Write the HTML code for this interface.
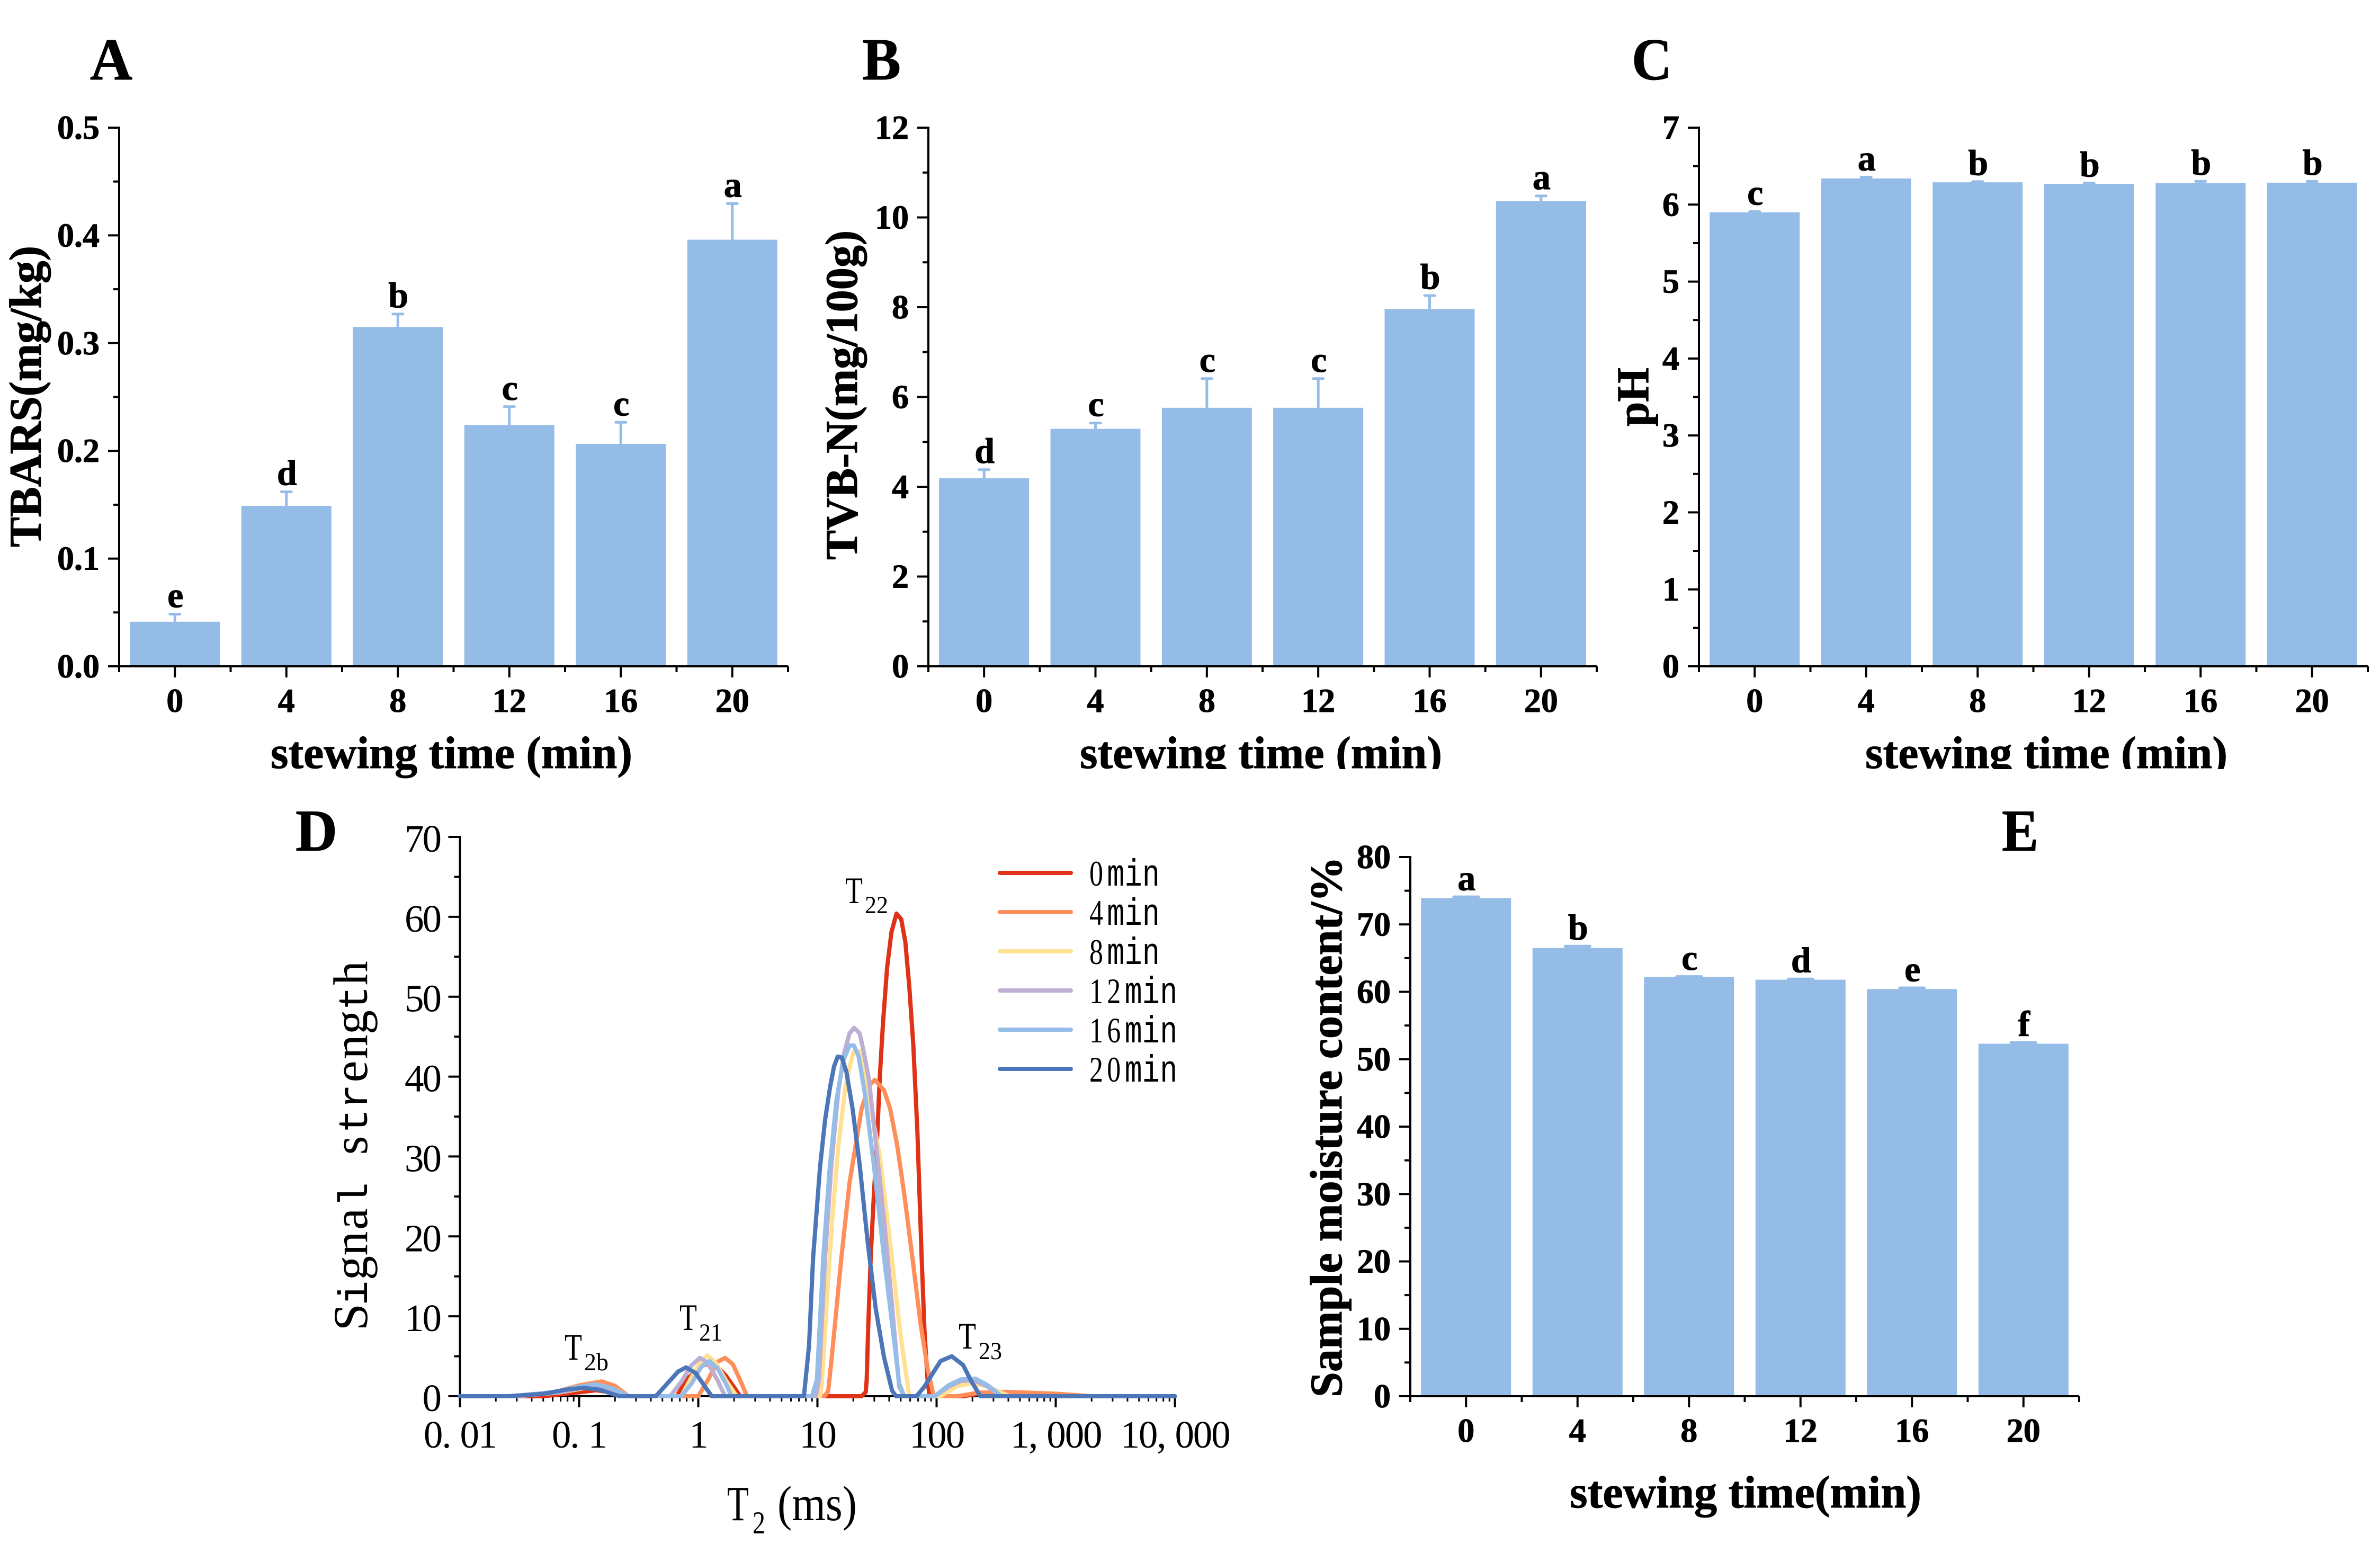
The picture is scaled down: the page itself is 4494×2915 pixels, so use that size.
<!DOCTYPE html>
<html lang="en">
<head>
<meta charset="utf-8">
<title>Stewing time quality indicators</title>
<style>
html,body{margin:0;padding:0;background:#fff;}
svg{display:block;}
text{font-family:"Liberation Serif","Noto Serif CJK SC",serif;fill:#000;}
text[font-weight="bold"]{stroke:#000;stroke-width:1;}
.panel{font-weight:bold;font-size:112px;stroke:#000;stroke-width:1;}
.title{font-weight:bold;font-size:86px;stroke:#000;stroke-width:1;}
.mono{font-family:"Liberation Mono",monospace;font-size:78px;}
</style>
</head>
<body>
<svg id="figure" xmlns="http://www.w3.org/2000/svg" width="4494" height="2915" viewBox="0 0 4494 2915">
<defs>
<clipPath id="clip-bottom-row"><rect x="0" y="0" width="4494" height="1452"/></clipPath>
</defs>
<rect x="0" y="0" width="4494" height="2915" fill="#ffffff"/>

<text class="panel" x="170" y="150" textLength="80" lengthAdjust="spacingAndGlyphs">A</text>
<text class="panel" x="1628" y="150" textLength="73" lengthAdjust="spacingAndGlyphs">B</text>
<text class="panel" x="3081" y="150" textLength="76" lengthAdjust="spacingAndGlyphs">C</text>
<text class="panel" x="558" y="1606" textLength="79" lengthAdjust="spacingAndGlyphs">D</text>
<text class="panel" x="3780" y="1606" textLength="69" lengthAdjust="spacingAndGlyphs">E</text>

<text class="title" transform="translate(77,1033) rotate(-90)" textLength="569" lengthAdjust="spacingAndGlyphs">TBARS(mg/kg)</text>
<text class="title" x="511" y="1450" textLength="683" lengthAdjust="spacingAndGlyphs">stewing time (min)</text>

<text class="title" transform="translate(1618,1057) rotate(-90)" textLength="622" lengthAdjust="spacingAndGlyphs">TVB-N(mg/100g)</text>
<g clip-path="url(#clip-bottom-row)">
<text class="title" x="2039" y="1450" textLength="684" lengthAdjust="spacingAndGlyphs">stewing time (min)</text>
</g>

<text class="title" transform="translate(3112,805) rotate(-90)" textLength="111" lengthAdjust="spacingAndGlyphs">pH</text>
<g clip-path="url(#clip-bottom-row)">
<text class="title" x="3522" y="1450" textLength="684" lengthAdjust="spacingAndGlyphs">stewing time (min)</text>
</g>

<text class="title" transform="translate(2533,2638) rotate(-90)" textLength="1021" lengthAdjust="spacingAndGlyphs">Sample moisture content/%</text>
<text class="title" x="2964" y="2846" textLength="664" lengthAdjust="spacingAndGlyphs">stewing time(min)</text>

<text transform="translate(693,2510) rotate(-90)" style="font-size:92px" x="-2.3 45.4 93 139.4 188.3 231 278.4 329.8 370.2 416.6 466.7 510.6 557 602.2 649.8">S<tspan class="mono">i</tspan>gna<tspan class="mono">l</tspan> s<tspan class="mono">tr</tspan>eng<tspan class="mono">t</tspan>h</text>
<g>
<text x="1373" y="2870" style="font-size:93px" textLength="41" lengthAdjust="spacingAndGlyphs">T</text>
<text x="1421" y="2895" style="font-size:60px" textLength="24" lengthAdjust="spacingAndGlyphs">2</text>
<text x="1468" y="2870" style="font-size:93px" textLength="150" lengthAdjust="spacingAndGlyphs">(ms)</text>
</g>

<g>
<text x="1066" y="2567" style="font-size:71px" textLength="33" lengthAdjust="spacingAndGlyphs">T</text>
<text x="1103" y="2587" style="font-size:47px" textLength="46" lengthAdjust="spacingAndGlyphs">2b</text>
</g>
<g>
<text x="1283" y="2511" style="font-size:71px" textLength="33" lengthAdjust="spacingAndGlyphs">T</text>
<text x="1320" y="2531" style="font-size:47px" textLength="44" lengthAdjust="spacingAndGlyphs">21</text>
</g>
<g>
<text x="1596" y="1705" style="font-size:71px" textLength="33" lengthAdjust="spacingAndGlyphs">T</text>
<text x="1633" y="1724" style="font-size:47px" textLength="44" lengthAdjust="spacingAndGlyphs">22</text>
</g>
<g>
<text x="1810" y="2546" style="font-size:71px" textLength="33" lengthAdjust="spacingAndGlyphs">T</text>
<text x="1848" y="2566" style="font-size:47px" textLength="44" lengthAdjust="spacingAndGlyphs">23</text>
</g>
</svg>

<script>
// Shared categories
const stewingTimes = ['0','4','8','12','16','20'];

// Panel A: TBARS
const tbarsValues = [0.0414,0.149,0.315,0.224,0.2065,0.396];
const tbarsErrors = [0.007,0.013,0.012,0.017,0.02,0.0335];
const tbarsLetters = ['e','d','b','c','c','a'];
const tbarsTicks = ['0.0','0.1','0.2','0.3','0.4','0.5'];

// Panel B: TVB-N
const tvbnValues = [4.19,5.29,5.76,5.76,7.96,10.36];
const tvbnErrors = [0.19,0.13,0.65,0.65,0.3,0.12];
const tvbnLetters = ['d','c','c','c','b','a'];
const tvbnTicks = ['0','2','4','6','8','10','12'];

// Panel C: pH
const phValues = [5.9,6.34,6.29,6.27,6.28,6.285];
const phErrors = [0.009,0.016,0.009,0.009,0.022,0.016];
const phLetters = ['c','a','b','b','b','b'];
const phTicks = ['0','1','2','3','4','5','6','7'];

// Panel E: moisture
const moistureValues = [73.9,66.5,62.2,61.8,60.4,52.3];
const moistureErrors = [0.16,0.24,0.03,0.07,0.15,0.15];
const moistureLetters = ['a','b','c','d','e','f'];
const moistureTicks = ['0','10','20','30','40','50','60','70','80'];

// Panel D: LF-NMR relaxation curves
const relaxXTicks = [0.01,0.1,1,10,100,1000,10000];
const relaxXLabels = ['0.01','0.1','1','10','100','1,000','10,000'];
const relaxYTicks = ['0','10','20','30','40','50','60','70'];
const seriesDigits = ['0','4','8','12','16','20'];

const t2Min0 = [0.01,0.05,0.1,0.14,0.2,0.25,0.66,0.81,1.1,1.35,1.7,2.25,23.5,25.4,25.9,26.6,28,29.7,31.5,33.4,35.5,38.4,41.8,46.1,50.5,54.6,59,63.8,69,74.7,79.2,84,87.3,167,257,500,800,10000];
const sigMin0 = [0,0,0.5,0.75,0.4,0,0,2.2,3.9,4.1,2.6,0,0,0.5,2,8.1,17.4,25,31.4,40,46.7,53.6,58.1,60.4,59.7,56.9,51.3,43.9,33.2,17.9,8.1,2,0,0,0.45,0.2,0,0];

const t2Min4 = [0.01,0.03,0.06,0.1,0.155,0.2,0.26,1,1.2,1.45,1.68,1.95,2.25,2.56,11.4,12.3,13.1,15.9,18.6,23.5,27,30.3,36.2,40.7,46.7,53.5,62.6,73.3,84,94.5,148,228,380,1050,2000,10000];
const sigMin4 = [0,0,0.45,1.35,1.85,1.3,0,0,2,4.3,4.8,4,2,0,0,0.6,4.4,17.4,26.7,36,38.8,39.6,38.3,36,31.4,25.3,17.4,9.1,3.5,0,0,0.45,0.55,0.3,0,0];

const t2Min8 = [0.01,0.03,0.07,0.12,0.16,0.21,0.26,0.72,0.88,1.05,1.19,1.4,1.7,2.1,10.5,10.9,12.1,13.3,15,17.2,18.9,20.1,22.6,24.4,27.5,33.4,40.7,49.4,59,108,148,195,257,411,10000];
const sigMin8 = [0,0,0.5,1.1,1.2,0.7,0,0,2.4,4.4,5.1,4.2,2,0,0,1.6,12.8,22.1,31.4,38.8,41.6,43.1,43.2,40.6,36.9,30,19.3,8.1,0,0,1.25,1.6,1.3,0,0];

const t2Min12 = [0.01,0.03,0.07,0.11,0.14,0.19,0.25,0.58,0.72,0.87,1.03,1.2,1.45,1.68,9.7,10.3,11.6,13.1,15,16.8,18.6,20.3,22.6,24.4,27,30.9,36.2,42.3,48.5,53.5,96,127,160,205,267,351,10000];
const sigMin12 = [0,0,0.5,1.1,1.3,0.8,0,0,1.8,3.8,4.8,4.2,2,0,0,2.1,17.4,29,38.3,43,45.4,46.1,45.4,43.2,39.7,31.8,22.1,11.4,1.2,0,0,1.2,1.9,2,1.2,0,0];

const t2Min16 = [0.01,0.027,0.06,0.1,0.137,0.19,0.26,0.72,0.88,1.05,1.24,1.45,1.7,1.9,9,9.9,11.2,12.6,14.4,16.5,18.6,20.2,22.2,25,29.7,36.2,43.1,48.5,53.5,96,127,160,211,267,351,10000];
const sigMin16 = [0,0,0.5,1.2,1.5,1,0,0,1.6,3.6,4.4,3.5,1.6,0,0,2.1,17.4,28.1,36.9,42,43.9,43.9,42.5,37.9,29,17.4,8.1,1.6,0,0,1.4,2.1,2.2,1.4,0,0];

const t2Min20 = [0.01,0.025,0.05,0.08,0.11,0.15,0.218,0.44,0.55,0.68,0.79,0.95,1.15,1.3,7.7,8.5,9.2,10.5,11.6,12.8,13.8,14.8,16,17.5,19.7,22.6,26.4,30.9,36.2,42.3,45.7,67.8,79,96.4,108,134,167,195,233,10000];
const sigMin20 = [0,0,0.3,0.85,1.05,0.8,0,0,1.6,3.1,3.6,2.9,1.1,0,0,6.3,17.4,28.6,34.6,38.8,41.3,42.5,42.4,40.6,36,29,19.3,10.9,4.9,0.7,0,0,1.2,3.25,4.4,5,3.9,1.9,0,0];

const BAR_COLOR = '#94BCE7';
const SVG_NS = 'http://www.w3.org/2000/svg';
const figure = document.getElementById('figure');

function addMark(parent, tag, attrs, name) {
  const el = document.createElementNS(SVG_NS, tag);
  Object.keys(attrs).forEach(function (k) { el.setAttribute(k, attrs[k]); });
  
  
  parent.appendChild(el);
  return el;
}
function addLine(parent, x1, y1, x2, y2, width, color, name) {
  return addMark(parent, 'line', {x1: x1, y1: y1, x2: x2, y2: y2, stroke: color, 'stroke-width': width}, name);
}
function addText(parent, x, y, str, size, weight, anchor, name) {
  const el = addMark(parent, 'text', {x: x, y: y, 'font-size': size, 'font-weight': weight, 'text-anchor': anchor}, name);
  el.textContent = str;
  return el;
}
function addCellText(parent, startX, y, str, cell, size, name) {
  const xs = str.split('').map(function (c, k) { return (startX + k * cell).toFixed(1); }).join(' ');
  const el = addMark(parent, 'text', {x: xs, y: y, 'font-size': size}, name);
  el.textContent = str;
  return el;
}

function drawBarPanel(id, box, values, errors, letters, yTicks, capWidth, capStroke) {
  const group = addMark(figure, 'g', {}, 'bar-chart-' + id);
  const yMax = parseFloat(yTicks[yTicks.length - 1]);
  const band = (box.right - box.left) / values.length;
  const xScale = function (i) { return box.left + band * (i + 0.5); };
  const yScale = function (v) { return box.bottom - v / yMax * (box.bottom - box.top); };

  values.forEach(function (v, i) {
    const cx = xScale(i);
    const errTop = yScale(v + errors[i]);
    addLine(group, cx, yScale(v), cx, errTop, 5, BAR_COLOR, 'error-bar-' + id + '-' + stewingTimes[i]);
    const cap = addLine(group, cx - (capWidth - capStroke) / 2, errTop, cx + (capWidth - capStroke) / 2, errTop, capStroke, BAR_COLOR, 'error-cap-' + id + '-' + stewingTimes[i]);
    cap.setAttribute('stroke-linecap', 'round');
    addMark(group, 'rect', {x: cx - 85, y: yScale(v), width: 170, height: box.bottom - yScale(v), fill: BAR_COLOR}, 'bar-' + id + '-' + stewingTimes[i]);
    addText(group, cx + 1, errTop - 13, letters[i], 68, 'bold', 'middle', 'significance-letter-' + id + '-' + stewingTimes[i]);
  });

  addLine(group, box.left, box.top - 2, box.left, box.bottom + 2, 4, '#000', 'y-axis-' + id);
  addLine(group, box.left - 2, box.bottom, box.right, box.bottom, 4, '#000', 'x-axis-' + id);

  yTicks.forEach(function (label, i) {
    const v = parseFloat(label);
    const y = yScale(v);
    addLine(group, box.left - 21, y, box.left, y, 4, '#000', 'y-tick-' + id + '-' + label);
    addText(group, box.left - 37, y + 21, label, 64, 'bold', 'end', 'y-tick-label-' + id + '-' + label);
    if (i < yTicks.length - 1) {
      const ym = yScale((v + parseFloat(yTicks[i + 1])) / 2);
      addLine(group, box.left - 11, ym, box.left, ym, 4, '#000', 'y-minor-tick-' + id);
    }
  });

  stewingTimes.forEach(function (label, i) {
    const cx = xScale(i);
    addLine(group, cx, box.bottom, cx, box.bottom + 21, 4, '#000', 'x-tick-' + id + '-' + label);
    addLine(group, box.left + band * i, box.bottom, box.left + band * i, box.bottom + 11, 4, '#000', 'x-minor-tick-' + id);
    addText(group, cx, box.bottom + 86, label, 64, 'bold', 'middle', 'x-tick-label-' + id + '-' + label);
  });
  addLine(group, box.right, box.bottom, box.right, box.bottom + 11, 4, '#000', 'x-minor-tick-' + id);
}

drawBarPanel('a', {left: 225, right: 1488, top: 241, bottom: 1258}, tbarsValues, tbarsErrors, tbarsLetters, tbarsTicks, 24, 5);
drawBarPanel('b', {left: 1753, right: 3015, top: 241, bottom: 1258}, tvbnValues, tvbnErrors, tvbnLetters, tvbnTicks, 24, 5);
drawBarPanel('c', {left: 3208, right: 4471, top: 241, bottom: 1258}, phValues, phErrors, phLetters, phTicks, 24, 5);
drawBarPanel('e', {left: 2663, right: 3926, top: 1618, bottom: 2636}, moistureValues, moistureErrors, moistureLetters, moistureTicks, 52, 6);

function drawRelaxationPanel() {
  const group = addMark(figure, 'g', {}, 'relaxation-chart');
  const left = 868.5, right = 2218.5, top = 1580, bottom = 2636;
  const decade = (right - left) / 6;
  const xScale = function (t) { return left + (Math.log10(t) + 2) * decade; };
  const yMax = parseFloat(relaxYTicks[relaxYTicks.length - 1]);
  const yScale = function (v) { return bottom - v / yMax * (bottom - top); };

  addLine(group, left, top - 2, left, bottom + 2, 4, '#000', 'y-axis-d');
  addLine(group, left - 2, bottom, right, bottom, 4, '#000', 'x-axis-d');

  relaxYTicks.forEach(function (label, i) {
    const v = parseFloat(label);
    addLine(group, left - 22, yScale(v), left, yScale(v), 4, '#000', 'y-tick-d-' + label);
    addCellText(group, 831 - label.length * 33.5, yScale(v) + 28, label, 33.5, 73, 'y-tick-label-d-' + label);
    if (i < relaxYTicks.length - 1) {
      addLine(group, left - 11, yScale(v + 5), left, yScale(v + 5), 4, '#000', 'y-minor-tick-d');
    }
  });

  relaxXTicks.forEach(function (t, i) {
    const x = xScale(t);
    addLine(group, x, bottom, x, bottom + 21, 4, '#000', 'x-tick-d-' + relaxXLabels[i]);
    const label = relaxXLabels[i];
    addCellText(group, x - label.length * 34.3 / 2, 2733, label, 34.3, 73, 'x-tick-label-d-' + label);
    if (i < relaxXTicks.length - 1) {
      for (let m = 2; m < 10; m++) {
        addLine(group, xScale(t * m), bottom, xScale(t * m), bottom + 10, 3, '#000', 'x-minor-tick-d');
      }
    }
  });

  const seriesColors = ['#E03216', '#FF8F5A', '#FFE194', '#BDAED4', '#95BDE8', '#4C76B8'];
  const seriesX = [t2Min0, t2Min4, t2Min8, t2Min12, t2Min16, t2Min20];
  const seriesY = [sigMin0, sigMin4, sigMin8, sigMin12, sigMin16, sigMin20];

  seriesDigits.forEach(function (digits, s) {
    const name = digits + 'min';
    const pts = seriesX[s].map(function (t, k) { return xScale(t).toFixed(1) + ',' + yScale(seriesY[s][k]).toFixed(1); }).join(' ');
    addMark(group, 'polyline', {points: pts, fill: 'none', stroke: seriesColors[s], 'stroke-width': 8, 'stroke-linejoin': 'round', 'stroke-linecap': 'round'}, 'curve-' + name);
    const legendY = 1648 + s * 74;
    const entry = addMark(group, 'g', {}, 'legend-entry-' + name);
    addMark(entry, 'line', {x1: 1888, y1: legendY, x2: 2022, y2: legendY, stroke: seriesColors[s], 'stroke-width': 8, 'stroke-linecap': 'round'}, 'legend-line-' + name);
    const xs = name.split('').map(function (c, k) { return (k * 33.3).toFixed(1); }).join(' ');
    const label = addMark(entry, 'text', {transform: 'translate(2057,' + (legendY + 24) + ') scale(1,1.3)', x: xs, y: 0}, 'legend-label-' + name);
    const digitPart = document.createElementNS(SVG_NS, 'tspan');
    digitPart.setAttribute('font-size', 52);
    digitPart.textContent = digits;
    label.appendChild(digitPart);
    const unitPart = document.createElementNS(SVG_NS, 'tspan');
    unitPart.setAttribute('font-size', 55);
    unitPart.setAttribute('style', 'font-family:"Liberation Mono",monospace');
    unitPart.textContent = 'min';
    label.appendChild(unitPart);
  });
}
drawRelaxationPanel();
</script>
</body>
</html>
